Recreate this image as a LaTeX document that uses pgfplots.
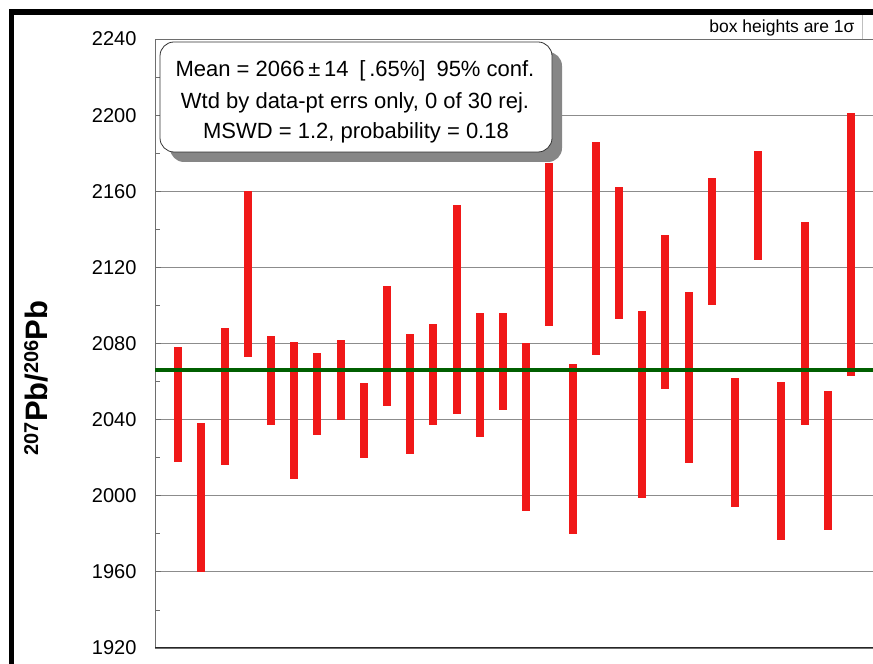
\documentclass[border=0pt]{standalone}
\usepackage{fontspec}
\setmainfont{Liberation Sans}
\usepackage{pgfplots}
\pgfplotsset{compat=1.18}
\usepackage{pgfplotstable}
\definecolor{barred}{RGB}{240,24,24}
\definecolor{meangreen}{RGB}{0,95,0}
\definecolor{gridgray}{RGB}{140,140,140}
\definecolor{framegray}{RGB}{110,110,110}

% spot analyses: lower and upper edge of each 1-sigma box
\pgfplotstableread{
n  lo    hi
1  2018  2078
2  1960  2038
3  2016  2088
4  2073  2160
5  2037  2084
6  2009  2081
7  2032  2075
8  2040  2082
9  2020  2059
10 2047  2110
11 2022  2085
12 2037  2090
13 2043  2153
14 2031  2096
15 2045  2096
16 1992  2080
17 2089  2175
18 1980  2069
19 2074  2186
20 2093  2162
21 1999  2097
22 2056  2137
23 2017  2107
24 2100  2167
25 1994  2062
26 2124  2181
27 1977  2060
28 2037  2144
29 1982  2055
30 2063  2201
}\spotdata

\newcommand{\iso}[1]{\raisebox{9pt}{\fontsize{20}{20}\selectfont #1}}

\begin{document}
\begin{tikzpicture}[x=1pt,y=1pt]
\useasboundingbox (0,0) rectangle (873,664);
\clip (0,0) rectangle (873,664);

\begin{axis}[
    at={(155pt,16pt)}, anchor=south west,
    scale only axis, width=718pt, height=609pt,
    xmin=0, xmax=30.95, ymin=1920, ymax=2240,
    xtick=\empty,
    ytick={1920,1960,...,2240}, minor y tick num=1,
    ytick pos=left, tick align=inside,
    major tick length=6pt, minor tick length=5pt,
    every tick/.style={framegray, line width=0.8pt},
    ymajorgrids, grid style={gridgray, line width=0.8pt},
    axis line style={framegray, line width=0.8pt},
    tick label style={font=\fontsize{20}{22}\selectfont},
    yticklabel style={xshift=-15pt},
    /pgf/number format/assume math mode=true,
    /pgf/number format/set thousands separator={},
]
\addplot[draw=none, no markers,
    error bars/.cd, y dir=both, y explicit, error mark=none,
    error bar style={draw=barred, line width=8pt}]
  table[x=n, y expr={(\thisrow{lo}+\thisrow{hi})/2},
        y error expr={(\thisrow{hi}-\thisrow{lo})/2}] {\spotdata};
\addplot[meangreen, line width=3.5pt] coordinates {(0,2066) (30.95,2066)};
\draw[black!85, line width=1.2pt] (rel axis cs:0,0) -- (rel axis cs:1,0);
\end{axis}

% statistics box with drop shadow
\fill[gray!95, rounded corners=14pt] (170,502) rectangle (562,612);
\draw[black!80, fill=white, rounded corners=14pt, line width=0.8pt] (160,512) rectangle (552,622);
\node[anchor=base, font=\fontsize{22}{24}\selectfont] at (355,587) {Mean = 2066\,±\,14\enspace[\,.65\%]\enspace 95\% conf.};
\node[anchor=base, font=\fontsize{22}{24}\selectfont] at (355,555) {Wtd by data-pt errs only, 0 of 30 rej.};
\node[anchor=base, font=\fontsize{22}{24}\selectfont] at (356,525) {MSWD = 1.2, probability = 0.18};

\node[anchor=base east, font=\fontsize{17.5}{19}\selectfont] at (858,631) {box heights are 1σ};
\draw[gray!50, line width=0.6pt] (862.5,625) -- (862.5,650);

\node[rotate=90, font=\bfseries\fontsize{31}{33}\selectfont] at (36,286) {\iso{207}Pb/\iso{206}Pb};

% outer black frame
\fill[black] (9,0) rectangle (14,655);
\fill[black] (9,649) rectangle (873,655);
\end{tikzpicture}
\end{document}
